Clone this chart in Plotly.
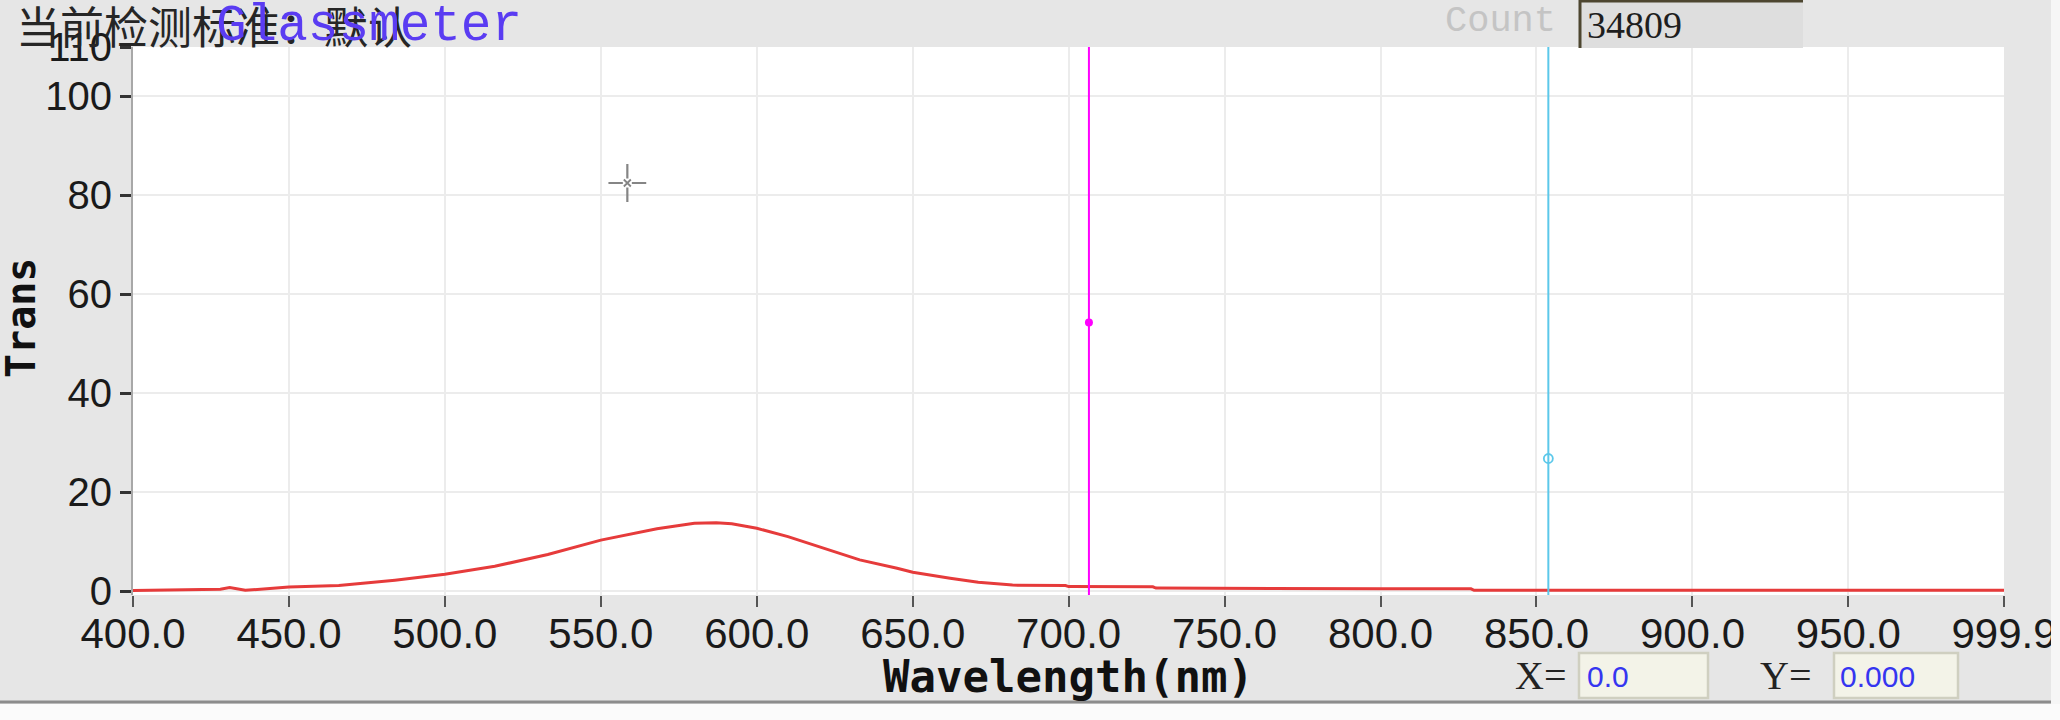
import plotly.graph_objects as go

# ---------------- data ----------------
wavelength = [400, 410, 420, 428, 431, 433, 436, 450, 466, 484, 500, 516, 533, 550,
              568, 580, 587, 592, 600, 610, 622, 633, 645, 650, 662, 671, 682, 699,
              700, 727, 728, 760, 800, 829, 830, 900, 999.9]
trans = [0.1, 0.2, 0.3, 0.35, 0.7, 0.5, 0.15, 0.8, 1.1, 2.2, 3.4, 5.0, 7.4, 10.3,
         12.6, 13.7, 13.8, 13.6, 12.7, 11.0, 8.6, 6.3, 4.6, 3.8, 2.6, 1.8, 1.2, 1.1,
         0.9, 0.85, 0.6, 0.5, 0.45, 0.45, 0.15, 0.15, 0.15]

cursor_a_x, cursor_a_y = 706.5, 54.3     # magenta cursor
cursor_b_x, cursor_b_y = 853.8, 26.8     # cyan cursor
pointer_x, pointer_y = 558.5, 82.5       # crosshair pointer

x_tickvals = [400, 450, 500, 550, 600, 650, 700, 750, 800, 850, 900, 950, 999.9]
x_ticktext = ["400.0", "450.0", "500.0", "550.0", "600.0", "650.0", "700.0",
              "750.0", "800.0", "850.0", "900.0", "950.0", "999.9"]
y_tickvals = [0, 20, 40, 60, 80, 100, 110]
y_ticktext = ["0", "20", "40", "60", "80", "100", "110"]

title_text = "当前检测标准：默认"
overlay_text = "Glassmeter"
count_label = "Count"
count_value = "34809"
x_readout = "0.0"
y_readout = "0.000"
x_title = "Wavelength(nm)"
y_title = "Trans"

# ---------------- layout geometry (pixels) ----------------
W, H = 2060, 720
PL, PR, PT, PB = 133, 2004, 47, 595


def xp(px):
    return (px - PL) / (PR - PL)


def yp(py):
    return (PB - py) / (PB - PT)


fig = go.Figure()

fig.add_trace(go.Scatter(x=wavelength, y=trans, mode="lines",
                         line=dict(color="#e63b3b", width=3), hoverinfo="skip"))

fig.add_vline(x=cursor_a_x, line_color="#ff00ff", line_width=2)
fig.add_vline(x=cursor_b_x, line_color="#5cc8ea", line_width=2)

fig.add_trace(go.Scatter(x=[cursor_a_x], y=[cursor_a_y], mode="markers",
                         marker=dict(symbol="circle", size=8, color="#ff00ff")))
fig.add_trace(go.Scatter(x=[cursor_b_x], y=[cursor_b_y], mode="markers",
                         marker=dict(symbol="circle-open", size=9, color="#5cc8ea",
                                     line=dict(width=1.8, color="#5cc8ea"))))

# crosshair pointer
fig.add_trace(go.Scatter(x=[pointer_x], y=[pointer_y], mode="markers",
                         marker=dict(symbol="cross-thin", size=27,
                                     line=dict(width=2.2, color="#858585"))))
fig.add_trace(go.Scatter(x=[pointer_x], y=[pointer_y], mode="markers",
                         marker=dict(symbol="square", size=9, color="white",
                                     line=dict(width=0))))
fig.add_trace(go.Scatter(x=[pointer_x], y=[pointer_y], mode="markers",
                         marker=dict(symbol="x-thin", size=7,
                                     line=dict(width=1.8, color="#858585"))))

x_tick_font = dict(family="Liberation Sans, Arial", size=42, color="#1a1a1a")
y_tick_font = dict(family="Liberation Sans, Arial", size=40, color="#1a1a1a")

fig.update_xaxes(range=[400, 999.9], tickvals=x_tickvals, ticktext=x_ticktext,
                 showgrid=True, gridcolor="#ececec", gridwidth=1.5,
                 ticks="outside", ticklen=11, tickwidth=2, tickcolor="#555555",
                 tickfont=x_tick_font, showline=False, zeroline=False,
                 ticklabelstandoff=-9, fixedrange=True)
fig.update_yaxes(range=[-0.8, 110], tickvals=y_tickvals, ticktext=y_ticktext,
                 showgrid=True, gridcolor="#ececec", gridwidth=1.5,
                 ticks="outside", ticklen=11, tickwidth=2.5, tickcolor="#333333",
                 tickfont=y_tick_font, showline=True, linecolor="#a8a8a8",
                 linewidth=2, zeroline=False, fixedrange=True)

shapes = [
    # plot top border
    dict(type="line", xref="paper", yref="paper", x0=0, x1=1, y0=yp(PT), y1=yp(PT),
         line=dict(color="#a8a8a8", width=2)),
    # right frame
    dict(type="rect", xref="paper", yref="paper", x0=xp(2044), x1=xp(2051),
         y0=yp(703), y1=yp(0), fillcolor="#c4c4c4", line=dict(width=0)),
    dict(type="rect", xref="paper", yref="paper", x0=xp(2051), x1=xp(W),
         y0=yp(H), y1=yp(0), fillcolor="#f6f6f6", line=dict(width=0)),
    # bottom frame
    dict(type="rect", xref="paper", yref="paper", x0=xp(0), x1=xp(W),
         y0=yp(H), y1=yp(704), fillcolor="#fbfbfb", line=dict(width=0)),
    dict(type="line", xref="paper", yref="paper", x0=xp(0), x1=xp(2051),
         y0=yp(702), y1=yp(702), line=dict(color="#8c8c8c", width=3)),
    # count box
    dict(type="rect", xref="paper", yref="paper", x0=xp(1579), x1=xp(1803),
         y0=yp(48), y1=yp(0), fillcolor="#dedede", line=dict(width=0)),
    dict(type="line", xref="paper", yref="paper", x0=xp(1579), x1=xp(1803),
         y0=yp(1), y1=yp(1), line=dict(color="#4d4630", width=3)),
    dict(type="line", xref="paper", yref="paper", x0=xp(1580), x1=xp(1580),
         y0=yp(48), y1=yp(0), line=dict(color="#4d4630", width=3)),
    # X readout box
    dict(type="rect", xref="paper", yref="paper", x0=xp(1579), x1=xp(1708),
         y0=yp(698), y1=yp(653), fillcolor="#f3f3e8",
         line=dict(color="#cfcfc0", width=2.5)),
    # Y readout box
    dict(type="rect", xref="paper", yref="paper", x0=xp(1834), x1=xp(1958),
         y0=yp(698), y1=yp(653), fillcolor="#f3f3e8",
         line=dict(color="#cfcfc0", width=2.5)),
]

annotations = [
    dict(text=title_text, x=xp(14), y=yp(25), xanchor="left", yanchor="middle",
         font=dict(family="Noto Sans CJK SC", size=44, color="#262626")),
    dict(text=overlay_text, x=xp(214), y=yp(27), xanchor="left", yanchor="middle",
         font=dict(family="Liberation Mono, Courier New", size=51, color="#5a3cf2")),
    dict(text=count_label, x=xp(1443), y=yp(21), xanchor="left", yanchor="middle",
         font=dict(family="Liberation Mono, Courier New", size=37, color="#c4c4c4")),
    dict(text=count_value, x=xp(1585), y=yp(25), xanchor="left", yanchor="middle",
         font=dict(family="Liberation Serif", size=38, color="#1e1e1e")),
    dict(text="<b>" + x_title + "</b>", x=0.5, y=yp(676), xanchor="center",
         yanchor="middle",
         font=dict(family="DejaVu Sans Mono", size=44, color="#111111")),
    dict(text="<b>" + y_title + "</b>", x=xp(21), y=yp(318), xanchor="center",
         yanchor="middle", textangle=-90,
         font=dict(family="DejaVu Sans Mono", size=40, color="#111111")),
    dict(text="X=", x=xp(1513), y=yp(675), xanchor="left", yanchor="middle",
         font=dict(family="Liberation Serif", size=40, color="#222222")),
    dict(text=x_readout, x=xp(1585), y=yp(676), xanchor="left", yanchor="middle",
         font=dict(family="Liberation Sans Narrow, Liberation Sans", size=30,
                   color="#3535f0")),
    dict(text="Y=", x=xp(1758), y=yp(675), xanchor="left", yanchor="middle",
         font=dict(family="Liberation Serif", size=40, color="#222222")),
    dict(text=y_readout, x=xp(1838), y=yp(676), xanchor="left", yanchor="middle",
         font=dict(family="Liberation Sans Narrow, Liberation Sans", size=30,
                   color="#3535f0")),
]
for a in annotations:
    a.update(xref="paper", yref="paper", showarrow=False)

fig.update_layout(
    width=W, height=H,
    margin=dict(l=PL, r=W - PR, t=PT, b=H - PB, autoexpand=False),
    paper_bgcolor="#e6e6e6", plot_bgcolor="white",
    showlegend=False, shapes=shapes, annotations=annotations,
)

fig.write_html("out.html", config={"displayModeBar": False},
               post_script="document.body.style.margin='0';"
                           "document.body.style.overflow='hidden';")
